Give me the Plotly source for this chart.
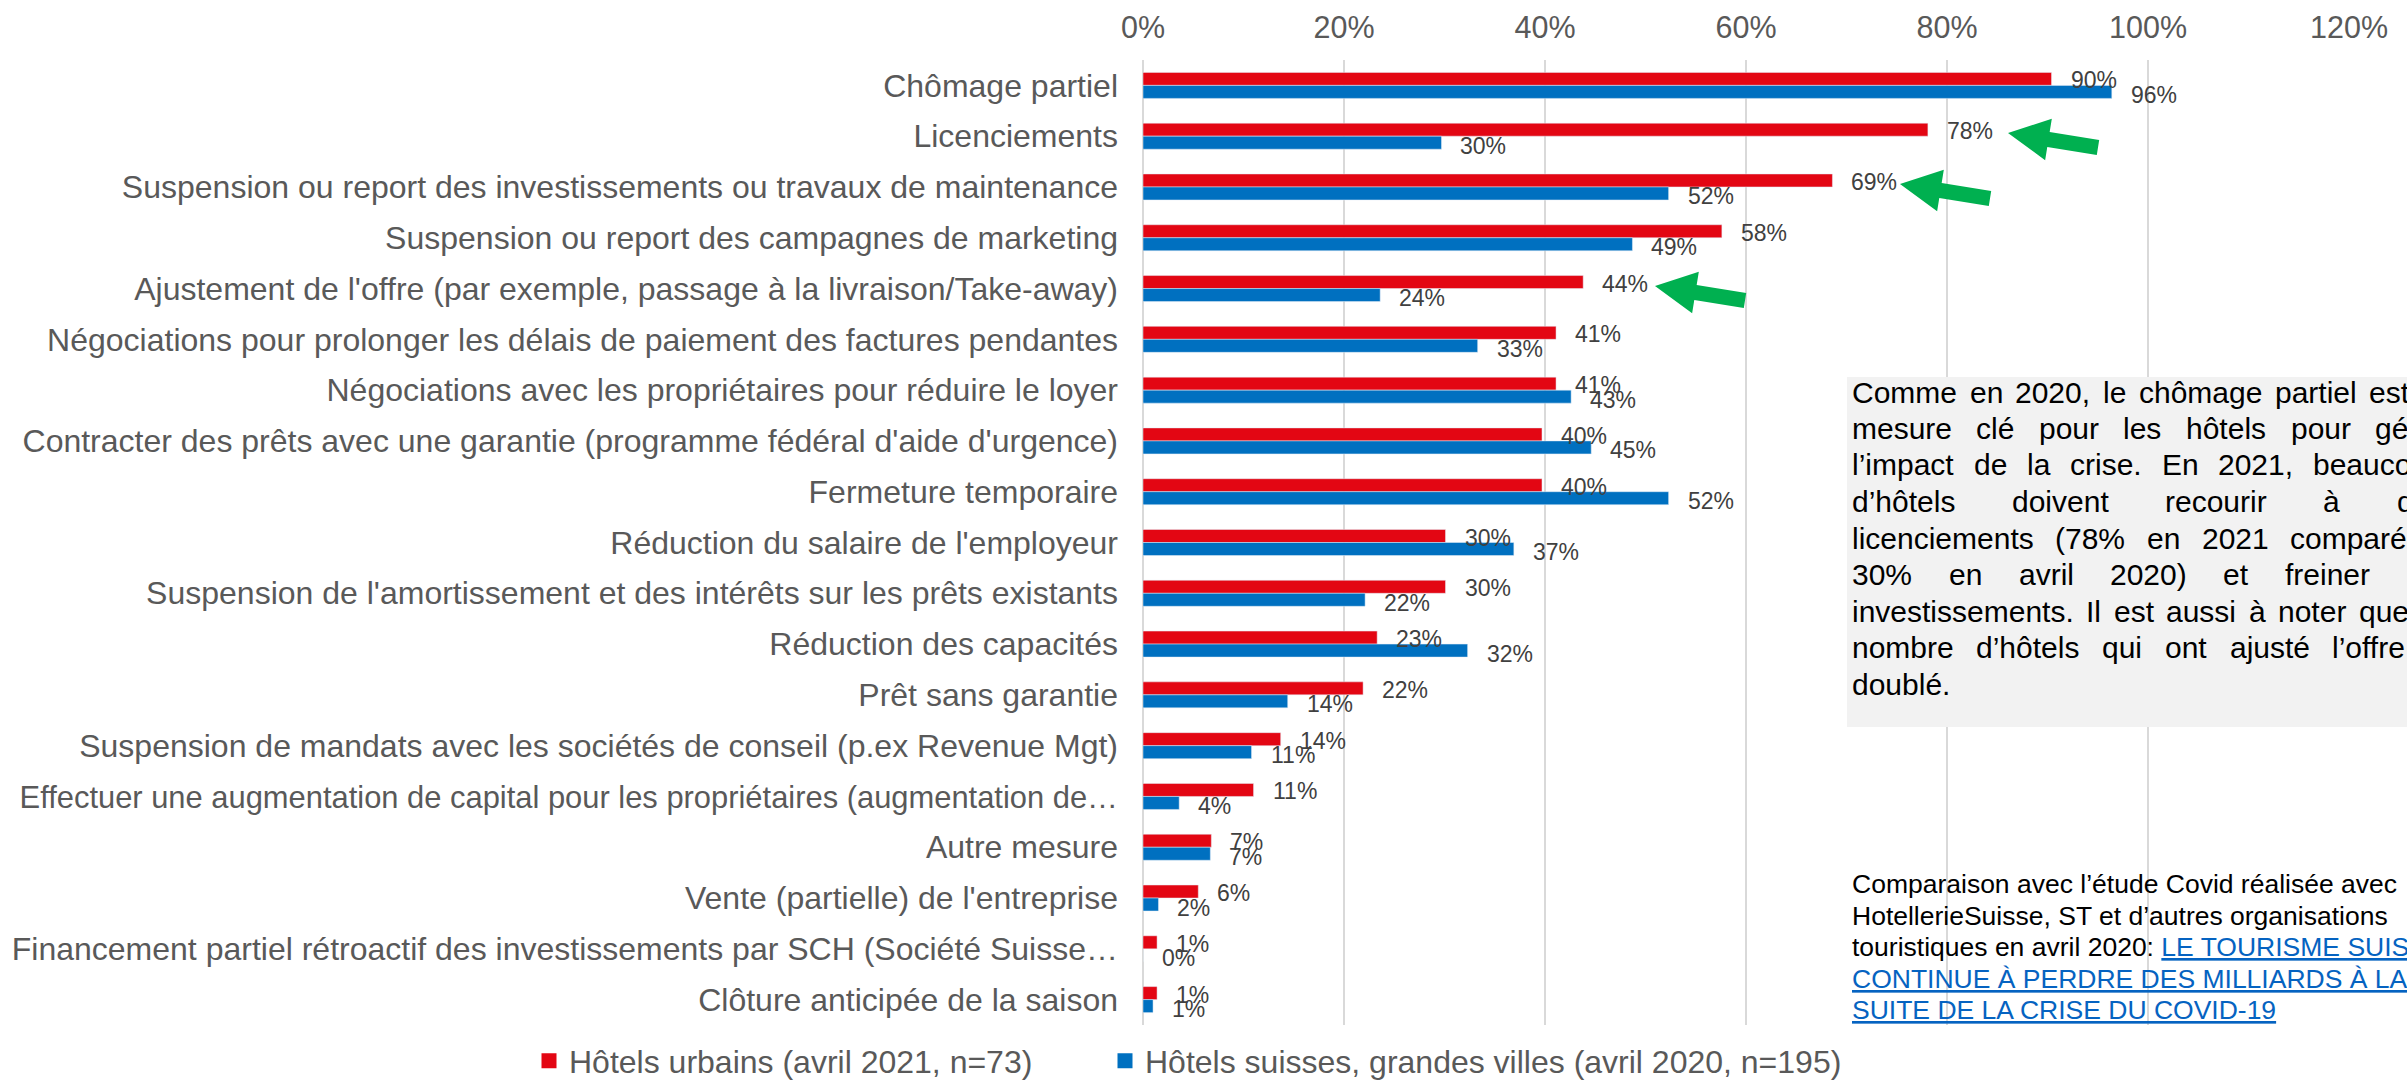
import math
import plotly.graph_objects as go

# ---------------- data ----------------
categories = [
    "Chômage partiel",
    "Licenciements",
    "Suspension ou report des investissements ou travaux de maintenance",
    "Suspension ou report des campagnes de marketing",
    "Ajustement de l'offre (par exemple, passage à la livraison/Take-away)",
    "Négociations pour prolonger les délais de paiement des factures pendantes",
    "Négociations avec les propriétaires pour réduire le loyer",
    "Contracter des prêts avec une garantie (programme fédéral d'aide d'urgence)",
    "Fermeture temporaire",
    "Réduction du salaire de l'employeur",
    "Suspension de l'amortissement et des intérêts sur les prêts existants",
    "Réduction des capacités",
    "Prêt sans garantie",
    "Suspension de mandats avec les sociétés de conseil (p.ex Revenue Mgt)",
    "Effectuer une augmentation de capital pour les propriétaires (augmentation de…",
    "Autre mesure",
    "Vente (partielle) de l'entreprise",
    "Financement partiel rétroactif des investissements par SCH (Société Suisse…",
    "Clôture anticipée de la saison",
]
urbains_2021 = [0.904, 0.781, 0.686, 0.576, 0.438, 0.411, 0.411, 0.397, 0.397, 0.301,
                0.301, 0.233, 0.219, 0.137, 0.110, 0.068, 0.055, 0.014, 0.014]
suisses_2020 = [0.964, 0.297, 0.523, 0.487, 0.236, 0.333, 0.426, 0.446, 0.523, 0.369,
                0.221, 0.323, 0.144, 0.108, 0.036, 0.067, 0.0154, 0.0, 0.010]
series_names = ["Hôtels urbains (avril 2021, n=73)",
                "Hôtels suisses, grandes villes (avril 2020, n=195)"]
x_ticks = [0, 0.2, 0.4, 0.6, 0.8, 1.0, 1.2]

comment_lines = [
    "Comme en 2020, le chômage partiel est la",
    "mesure clé pour les hôtels pour gérer",
    "l’impact de la crise. En 2021, beaucoup",
    "d’hôtels doivent recourir à des",
    "licenciements (78% en 2021 comparé à",
    "30% en avril 2020) et freiner les",
    "investissements. Il est aussi à noter que le",
    "nombre d’hôtels qui ont ajusté l’offre a",
    "doublé.",
]
LINK = '<span style="color:#0563C1"><u>{}</u></span>'
source_lines = [
    "Comparaison avec l’étude Covid réalisée avec",
    "HotellerieSuisse, ST et d’autres organisations",
    "touristiques en avril 2020: " + LINK.format("LE TOURISME SUISSE"),
    LINK.format("CONTINUE À PERDRE DES MILLIARDS À LA"),
    LINK.format("SUITE DE LA CRISE DU COVID-19"),
]

# ---------------- geometry ----------------
W, H = 2407, 1081
ML, MR, MT, MB = 1143, 58, 60, 56
PW, PH = W - ML - MR, H - MT - MB
FONT = "Liberation Sans, Arial, sans-serif"
RED, BLUE, GREEN = "#E30613", "#0070C0", "#00B050"


def px_x(px):
    return (px - ML) / PW


def px_y(py):
    return 1 - (py - MT) / PH


def pct(v):
    return f"{math.floor(v * 100 + 0.5 + 1e-9):d}%"


# tick texts: the long truncated label is set slightly tighter, as in the original
tick_text = [('<span style="font-size:30.9px">' + c + '</span>') if c.startswith("Effectuer") else c
             for c in categories]

fig = go.Figure()
for vals, name, color, lg in ((urbains_2021, series_names[0], RED, "legend"),
                              (suisses_2020, series_names[1], BLUE, "legend2")):
    fig.add_trace(go.Bar(y=categories, x=vals, orientation="h", name=name,
                         marker=dict(color=color), showlegend=False, hoverinfo="x+y"))
    # legend-only entry with a larger square key
    fig.add_trace(go.Scatter(x=[None], y=[None], mode="markers", name=name, legend=lg,
                             marker=dict(symbol="square", size=15, color=color),
                             showlegend=True, hoverinfo="skip"))

annotations = []
# data labels
for vals, ys in ((urbains_2021, 5), (suisses_2020, -9.5)):
    for cat, v in zip(categories, vals):
        annotations.append(dict(x=v, y=cat, xref="x", yref="y", text=pct(v),
                                showarrow=False, xanchor="left", yanchor="middle",
                                xshift=17, yshift=ys,
                                font=dict(family=FONT, size=23, color="#404040")))

# justified comment text
CW = {' ': 278, ',': 278, '.': 278, '(': 333, ')': 333, '%': 889, '’': 222,
      'a': 556, 'b': 556, 'c': 500, 'd': 556, 'e': 556, 'f': 278, 'g': 556, 'h': 556,
      'i': 222, 'j': 222, 'k': 500, 'l': 222, 'm': 833, 'n': 556, 'o': 556, 'p': 556,
      'q': 556, 'r': 333, 's': 500, 't': 278, 'u': 556, 'v': 500, 'w': 722, 'x': 500,
      'y': 500, 'z': 500, 'C': 722, 'E': 667, 'I': 278, 'é': 556, 'ô': 556, 'à': 556}


def tw(s, size):
    return sum(CW.get(c, 556) for c in s) * size / 1000.0


TF = 30
BOX_LEFT, TEXT_LEFT, JW = 1847, 1850, 593
LINE0, LSP = 392, 36.5
for i, line in enumerate(comment_lines):
    words = line.split(" ")
    yc = LINE0 + i * LSP
    if i == len(comment_lines) - 1 or len(words) == 1:
        gap = tw(" ", TF)
    else:
        gap = (JW - sum(tw(w, TF) for w in words)) / (len(words) - 1)
    xpos = TEXT_LEFT
    for w in words:
        annotations.append(dict(x=px_x(xpos), y=px_y(yc), xref="paper", yref="paper", text=w,
                                showarrow=False, xanchor="left", yanchor="middle",
                                font=dict(family=FONT, size=TF, color="#000000")))
        xpos += tw(w, TF) + gap

for i, line in enumerate(source_lines):
    annotations.append(dict(x=px_x(TEXT_LEFT), y=px_y(884 + i * 31.5), xref="paper", yref="paper",
                            text=line, showarrow=False, xanchor="left", yanchor="middle",
                            font=dict(family=FONT, size=26.5, color="#000000")))

shapes = [dict(type="rect", xref="paper", yref="paper", x0=px_x(BOX_LEFT), x1=px_x(W + 200),
               y0=px_y(727), y1=px_y(377), fillcolor="#F2F2F2", line=dict(width=0), layer="above")]


def arrow_path(tip, tail, shaft_w=15, head_len=41, head_w=42):
    tx, ty = tip
    ex, ey = tail
    dx, dy = ex - tx, ey - ty
    L = math.hypot(dx, dy)
    ux, uy = dx / L, dy / L
    nx, ny = -uy, ux
    bx, by = tx + ux * head_len, ty + uy * head_len
    pts = [(tx, ty),
           (bx + nx * head_w / 2, by + ny * head_w / 2),
           (bx + nx * shaft_w / 2, by + ny * shaft_w / 2),
           (ex + nx * shaft_w / 2, ey + ny * shaft_w / 2),
           (ex - nx * shaft_w / 2, ey - ny * shaft_w / 2),
           (bx - nx * shaft_w / 2, by - ny * shaft_w / 2),
           (bx - nx * head_w / 2, by - ny * head_w / 2)]
    return "M " + " L ".join(f"{px_x(x):.5f},{px_y(y):.5f}" for x, y in pts) + " Z"


for tip in [(2008, 133), (1900, 184), (1655, 286)]:
    tail = (tip[0] + 90, tip[1] + 14.5)
    shapes.append(dict(type="path", xref="paper", yref="paper", path=arrow_path(tip, tail),
                       fillcolor=GREEN, line=dict(width=0), layer="above"))

legend_common = dict(orientation="h", xanchor="left", yanchor="middle",
                     font=dict(family=FONT, size=32, color="#595959"),
                     bgcolor="rgba(0,0,0,0)", borderwidth=0)

fig.update_layout(
    width=W, height=H,
    margin=dict(l=ML, r=MR, t=MT, b=MB, autoexpand=False),
    paper_bgcolor="white", plot_bgcolor="white",
    font=dict(family=FONT, color="#595959"),
    barmode="group", bargap=0.488, bargroupgap=0,
    showlegend=True,
    legend=dict(x=px_x(529), y=px_y(1061), **legend_common),
    legend2=dict(x=px_x(1105), y=px_y(1061), **legend_common),
    xaxis=dict(side="top", range=[0, 1.2], tickvals=x_ticks, tickformat=".0%",
               showgrid=True, gridcolor="#D9D9D9", gridwidth=1.5,
               zeroline=True, zerolinecolor="#D9D9D9", zerolinewidth=1.5,
               showline=False, ticks="", ticklabelstandoff=15,
               tickfont=dict(family=FONT, size=30.5, color="#595959"),
               automargin=False, fixedrange=True),
    yaxis=dict(type="category", autorange="reversed", showgrid=False, zeroline=False,
               showline=False, ticks="", ticklabelstandoff=24,
               tickmode="array", tickvals=categories, ticktext=tick_text,
               tickfont=dict(family=FONT, size=32, color="#595959"),
               automargin=False, fixedrange=True),
    annotations=annotations,
    shapes=shapes,
)

fig.write_html("out.html", config={"displayModeBar": False},
               post_script="document.body.style.margin='0';")
